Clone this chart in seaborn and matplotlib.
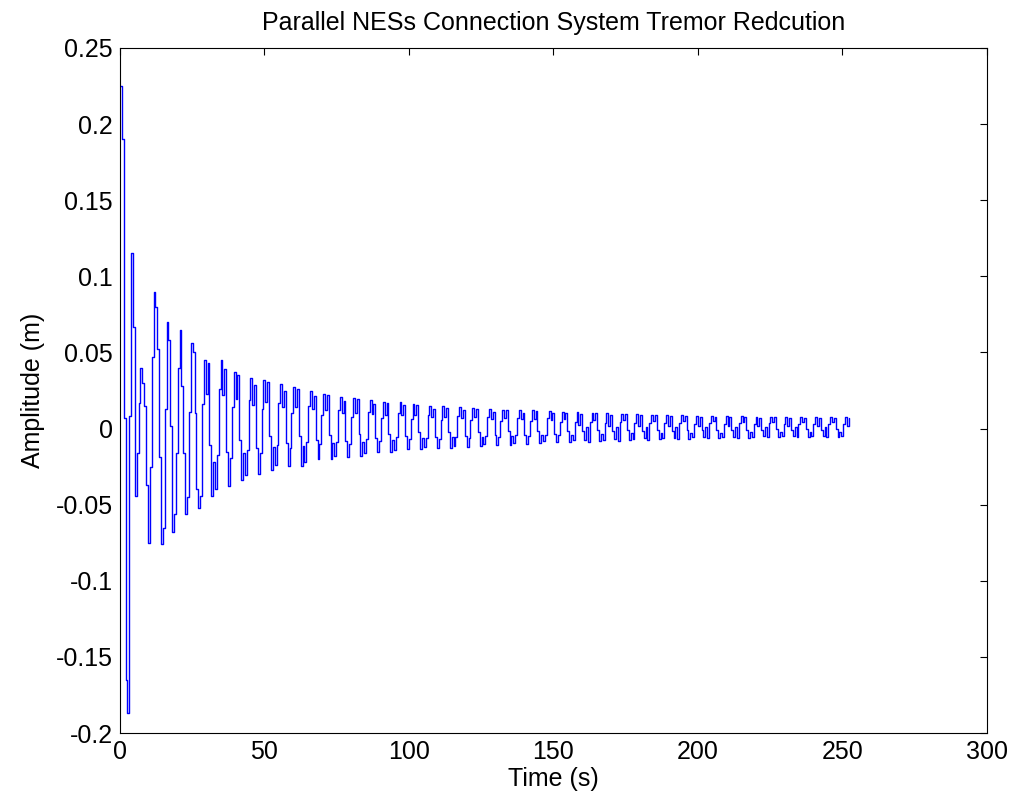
import numpy as np
import pandas as pd
import matplotlib
matplotlib.use("Agg")
import matplotlib.pyplot as plt
import seaborn as sns
from matplotlib.ticker import FuncFormatter

title = "Parallel NESs Connection System Tremor Redcution"
x_label = "Time (s)"
y_label = "Amplitude (m)"
x_ticks = [0, 50, 100, 150, 200, 250, 300]
y_ticks = [-0.2, -0.15, -0.1, -0.05, 0, 0.05, 0.1, 0.15, 0.2, 0.25]
sample_period = 0.645  # s, step width of the held signal

# amplitude (m), t = 0 .. 28 s
amp_early = [
    0.225, 0.190, 0.007, -0.165, -0.187, 0.008, 0.115, 0.067,
    -0.044, -0.016, 0.017, 0.040, 0.030, 0.015, -0.037, -0.075,
    -0.025, 0.047, 0.090, 0.080, 0.052, -0.019, -0.076, -0.065,
    0.013, 0.070, 0.058, 0.002, -0.068, -0.056, -0.016, 0.040,
    0.065, 0.028, -0.016, -0.056, -0.045, 0.011, 0.056, 0.050,
    0.010, -0.040, -0.052, -0.044,
]
# t = 28 .. 137 s
amp_mid = [
    0.0161, 0.0450, 0.0228, 0.0428, -0.0106, -0.0440, -0.0218, -0.0396,
    -0.0173, 0.0263, 0.0450, 0.0222, 0.0388, -0.0152, -0.0380, -0.0193,
    0.0139, 0.0370, 0.0193, 0.0352, -0.0074, -0.0340, -0.0163, -0.0305,
    -0.0143, 0.0188, 0.0330, 0.0157, 0.0283, -0.0127, -0.0300, -0.0158,
    0.0128, 0.0320, 0.0173, 0.0305, -0.0049, -0.0270, -0.0123, -0.0241,
    -0.0111, 0.0170, 0.0290, 0.0143, 0.0250, -0.0098, -0.0245, -0.0125,
    0.0103, 0.0270, 0.0141, 0.0257, -0.0052, -0.0245, -0.0116, -0.0219,
    -0.0088, 0.0149, 0.0250, 0.0126, 0.0216, -0.0076, -0.0200, -0.0099,
    0.0090, 0.0230, 0.0123, 0.0219, -0.0039, -0.0200, -0.0093, -0.0179,
    -0.0090, 0.0120, 0.0210, 0.0100, 0.0180, -0.0080, -0.0190, -0.0100,
    0.0077, 0.0200, 0.0105, 0.0191, -0.0038, -0.0180, -0.0085, -0.0161,
    -0.0070, 0.0112, 0.0190, 0.0095, 0.0164, -0.0062, -0.0157, -0.0079,
    0.0067, 0.0175, 0.0092, 0.0167, -0.0033, -0.0157, -0.0074, -0.0140,
    -0.0058, 0.0105, 0.0175, 0.0089, 0.0152, -0.0050, -0.0136, -0.0066,
    0.0064, 0.0160, 0.0086, 0.0153, -0.0025, -0.0136, -0.0062, -0.0121,
    -0.0060, 0.0087, 0.0150, 0.0073, 0.0129, -0.0053, -0.0130, -0.0067,
    0.0057, 0.0145, 0.0078, 0.0138, -0.0024, -0.0125, -0.0058, -0.0112,
    -0.0055, 0.0082, 0.0140, 0.0069, 0.0121, -0.0049, -0.0120, -0.0062,
    0.0054, 0.0135, 0.0073, 0.0129, -0.0021, -0.0115, -0.0053, -0.0103,
    -0.0050, 0.0076, 0.0130, 0.0064, 0.0112, -0.0044, -0.0110, -0.0056,
    0.0050, 0.0125, 0.0068, 0.0119, -0.0019, -0.0105, -0.0048, -0.0094,
]
# t = 137 .. 253 s
amp_late = [
    -0.0045, 0.0071, 0.0120, 0.0060, 0.0104, -0.0040, -0.0100, -0.0051,
    0.0050, 0.0120, 0.0066, 0.0115, -0.0014, -0.0095, -0.0041, -0.0084,
    -0.0039, 0.0069, 0.0115, 0.0059, 0.0100, -0.0034, -0.0090, -0.0044,
    0.0046, 0.0110, 0.0061, 0.0105, -0.0014, -0.0088, -0.0039, -0.0078,
    0.0040, 0.0108, 0.0021, 0.0098, -0.0017, -0.0075, 0.0012, -0.0085,
    0.0044, 0.0105, 0.0058, 0.0100, -0.0012, -0.0082, -0.0035, -0.0073,
    0.0037, 0.0100, 0.0019, 0.0091, -0.0017, -0.0071, 0.0010, -0.0080,
    0.0042, 0.0098, 0.0055, 0.0094, -0.0010, -0.0075, -0.0032, -0.0066,
    0.0037, 0.0095, 0.0020, 0.0087, -0.0014, -0.0064, 0.0012, -0.0072,
    0.0039, 0.0092, 0.0052, 0.0088, -0.0009, -0.0070, -0.0030, -0.0062,
    0.0035, 0.0090, 0.0019, 0.0082, -0.0013, -0.0060, 0.0011, -0.0068,
    0.0038, 0.0088, 0.0050, 0.0084, -0.0008, -0.0066, -0.0028, -0.0058,
    0.0033, 0.0085, 0.0018, 0.0078, -0.0012, -0.0057, 0.0011, -0.0064,
    0.0036, 0.0083, 0.0047, 0.0079, -0.0008, -0.0062, -0.0026, -0.0055,
    0.0032, 0.0082, 0.0018, 0.0075, -0.0010, -0.0053, 0.0011, -0.0060,
    0.0035, 0.0080, 0.0045, 0.0077, -0.0008, -0.0060, -0.0025, -0.0053,
    0.0030, 0.0078, 0.0017, 0.0071, -0.0010, -0.0051, 0.0010, -0.0058,
    0.0034, 0.0077, 0.0044, 0.0074, -0.0006, -0.0056, -0.0023, -0.0049,
    0.0030, 0.0076, 0.0017, 0.0069, -0.0009, -0.0048, 0.0011, -0.0055,
    0.0033, 0.0075, 0.0043, 0.0072, -0.0006, -0.0055, -0.0023, -0.0049,
    0.0030, 0.0075, 0.0017, 0.0069, -0.0009, -0.0048, 0.0011, -0.0054,
    0.0032, 0.0074, 0.0042, 0.0071, -0.0006, -0.0054, -0.0022, -0.0048,
    0.0029, 0.0074, 0.0016, 0.0068,
]

amplitude = np.array(amp_early + amp_mid + amp_late)
time = np.arange(len(amplitude)) * sample_period
df = pd.DataFrame({x_label: time, y_label: amplitude})

sns.set_theme(style="white")
plt.rcParams["font.family"] = ["Liberation Sans", "DejaVu Sans"]
plt.rcParams["axes.unicode_minus"] = False

fig = plt.figure(figsize=(10.14, 8.09), dpi=100)
ax = fig.add_axes([0.1183, 0.0939, 0.855, 0.8468])
sns.lineplot(data=df, x=x_label, y=y_label, ax=ax, color="#0000ff",
             linewidth=1.0, drawstyle="steps-post", estimator=None,
             sort=False, antialiased=True)

ax.set_xlim(0, 300)
ax.set_ylim(-0.2, 0.25)
ax.set_xticks(x_ticks)
ax.set_yticks(y_ticks)
ax.yaxis.set_major_formatter(FuncFormatter(lambda v, p: "%g" % round(v, 4)))
ax.xaxis.set_major_formatter(FuncFormatter(lambda v, p: "%g" % v))
ax.tick_params(direction="in", top=True, right=True, length=5, width=0.8,
               labelsize=18, colors="black", pad=5)
for s in ax.spines.values():
    s.set_color("black")
    s.set_linewidth(0.8)
ax.set_title(title, fontsize=18, color="black", pad=13)
ax.set_xlabel(x_label, fontsize=18, color="black", labelpad=2)
ax.set_ylabel(y_label, fontsize=18, color="black", labelpad=8)

fig.savefig("out.png", dpi=100, facecolor="white")
